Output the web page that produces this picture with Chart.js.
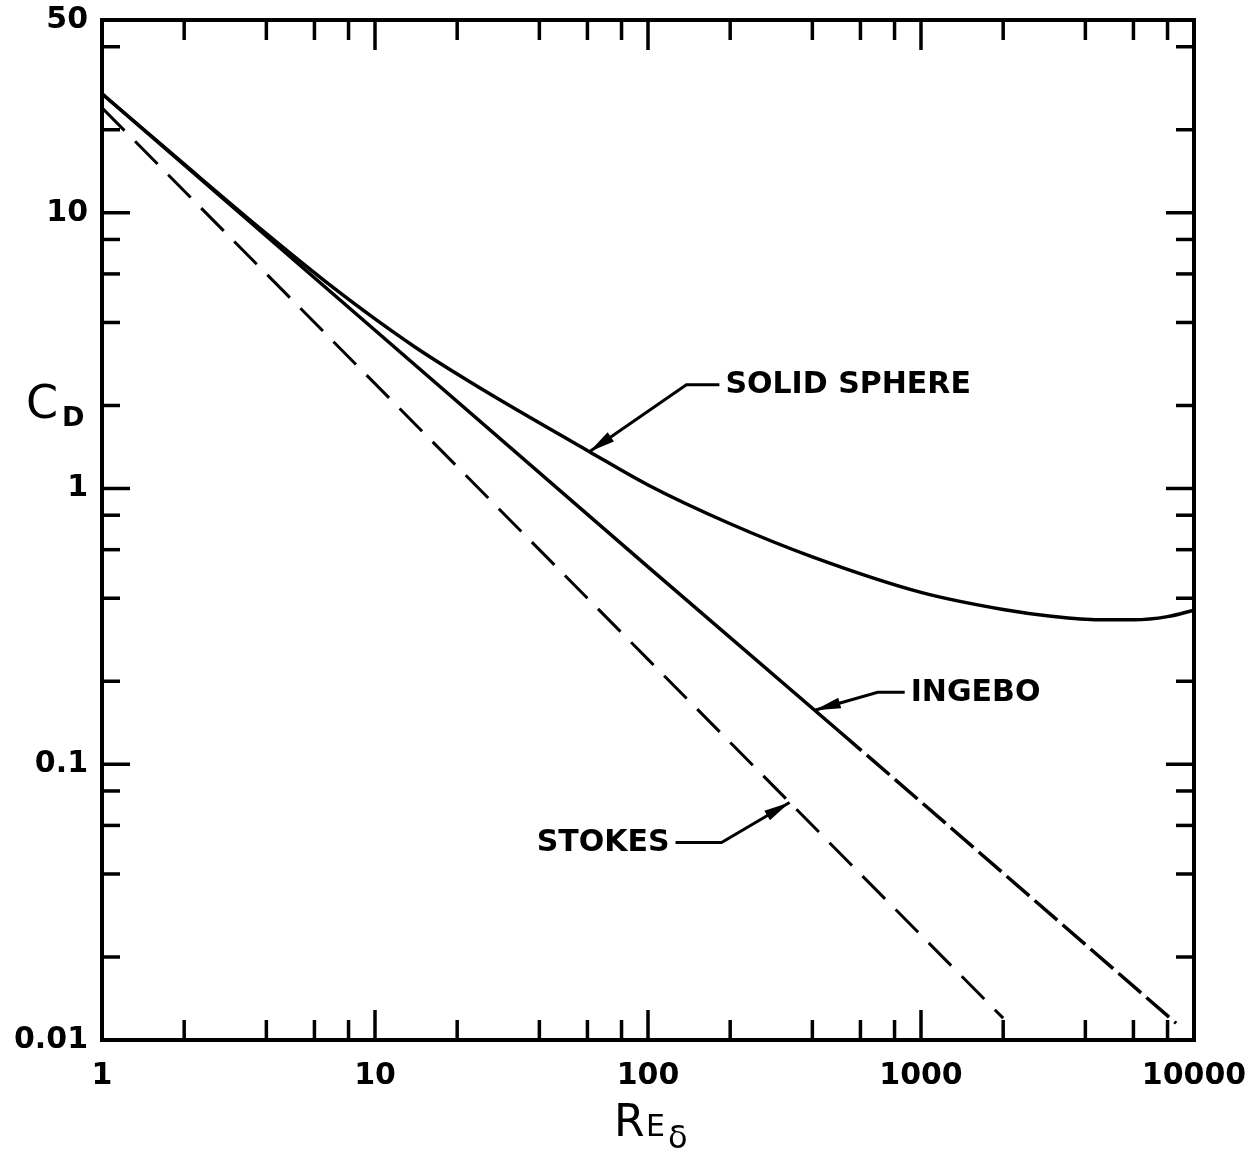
<!DOCTYPE html>
<html>
<head>
<meta charset="utf-8">
<script src="https://cdn.jsdelivr.net/npm/chart.js@4.4.0/dist/chart.umd.min.js"></script>
<style>
  html, body { margin: 0; padding: 0; background: #fff; }
  #wrap { width: 1260px; height: 1153px; }
</style>
</head>
<body>
<div id="wrap"><canvas id="dragChart" width="1260" height="1153"></canvas></div>
<script>
// Drag coefficient vs Reynolds number
const reTicks = [1, 10, 100, 1000, 10000];
const cdTicks = [0.01, 0.1, 1, 10, 50];

const sphereRe = [1, 2, 4, 7, 10, 14, 20, 30, 61, 100, 200, 400, 1000, 2000, 3000, 4500, 6000, 8000, 10000];
const sphereCd = [27, 15, 8.4, 5.37, 4.12, 3.26, 2.6, 2.04, 1.36, 1.03, 0.745, 0.565, 0.42, 0.364, 0.344, 0.334, 0.334, 0.343, 0.362];

// Ingebo correlation: solid over the measured range, dashed where extrapolated
const ingeboRe = [1, 10, 100, 500];
const ingeboCd = [27, 3.75, 0.52, 0.132];
const ingeboExtRe = [500, 1000, 8600];
const ingeboExtCd = [0.132, 0.073, 0.0115];

const stokesRe = [1, 10, 100, 2000];
const stokesCd = [24, 2.4, 0.24, 0.012];

// curve labels: arrow tip sits on the curve at (re, cd)
const callouts = [
  { text: 'SOLID SPHERE', re: 61, cd: 1.36, dx: 97, dy: -67, run: 33 },
  { text: 'INGEBO', re: 408, cd: 0.157, dx: 63, dy: -18, run: 27 },
  { text: 'STOKES', re: 330, cd: 0.0727, dx: -68, dy: 40, run: -46 }
];

const ink = '#000';
const font = "'DejaVu Sans', sans-serif";

function pts(xs, ys) {
  return xs.map((v, i) => ({ x: v, y: ys[i] }));
}

function line(ctx, x1, y1, x2, y2) {
  ctx.beginPath();
  ctx.moveTo(x1, y1);
  ctx.lineTo(x2, y2);
  ctx.stroke();
}

const decorations = {
  id: 'decorations',
  afterDraw(chart) {
    const { ctx, chartArea: a, scales: { x, y } } = chart;
    ctx.save();
    ctx.strokeStyle = ink;
    ctx.fillStyle = ink;

    // inward ticks on all four sides
    ctx.lineWidth = 3.5;
    [1, 10, 100, 1000].forEach(d => {
      [2, 4, 6, 8].forEach(m => {
        const px = x.getPixelForValue(d * m);
        line(ctx, px, a.bottom, px, a.bottom - 20);
        line(ctx, px, a.top, px, a.top + 20);
      });
    });
    [10, 100, 1000].forEach(v => {
      const px = x.getPixelForValue(v);
      line(ctx, px, a.bottom, px, a.bottom - 30);
      line(ctx, px, a.top, px, a.top + 30);
    });
    [0.01, 0.1, 1, 10].forEach(d => {
      [2, 4, 6, 8].forEach(m => {
        const v = d * m;
        if (v >= 50) return;
        const py = y.getPixelForValue(v);
        line(ctx, a.left, py, a.left + 18, py);
        line(ctx, a.right, py, a.right - 18, py);
      });
    });
    [0.1, 1, 10].forEach(v => {
      const py = y.getPixelForValue(v);
      line(ctx, a.left, py, a.left + 28, py);
      line(ctx, a.right, py, a.right - 28, py);
    });

    // frame
    ctx.lineWidth = 4;
    ctx.strokeRect(a.left, a.top, a.width, a.height);

    // callouts with arrows
    ctx.lineWidth = 3;
    ctx.font = 'bold 30px ' + font;
    ctx.textBaseline = 'middle';
    callouts.forEach(c => {
      const tx = x.getPixelForValue(c.re);
      const ty = y.getPixelForValue(c.cd);
      const ex = tx + c.dx, ey = ty + c.dy;
      const hx = ex + c.run;
      ctx.beginPath();
      ctx.moveTo(hx, ey);
      ctx.lineTo(ex, ey);
      ctx.lineTo(tx, ty);
      ctx.stroke();
      // arrow head
      const ang = Math.atan2(ty - ey, tx - ex);
      const len = 26, half = 5.5;
      ctx.beginPath();
      ctx.moveTo(tx, ty);
      ctx.lineTo(tx - len * Math.cos(ang) + half * Math.sin(ang), ty - len * Math.sin(ang) - half * Math.cos(ang));
      ctx.lineTo(tx - len * Math.cos(ang) - half * Math.sin(ang), ty - len * Math.sin(ang) + half * Math.cos(ang));
      ctx.closePath();
      ctx.fill();
      ctx.textAlign = c.run > 0 ? 'left' : 'right';
      ctx.fillText(c.text, hx + (c.run > 0 ? 6 : -6), ey + 1);
    });

    // axis titles
    ctx.textAlign = 'left';
    ctx.textBaseline = 'alphabetic';
    ctx.font = '46px ' + font;
    ctx.fillText('C', 26, 418);
    ctx.font = 'bold 27px ' + font;
    ctx.fillText('D', 62, 426);

    ctx.font = '44px ' + font;
    ctx.fillText('R', 614, 1136);
    ctx.font = '30px ' + font;
    ctx.fillText('E', 646, 1136);
    ctx.font = '32px ' + font;
    ctx.fillText('\u03b4', 668, 1148);
    ctx.restore();
  }
};

new Chart(document.getElementById('dragChart'), {
  type: 'line',
  data: {
    datasets: [{
      label: 'Solid sphere',
      data: pts(sphereRe, sphereCd),
      borderColor: ink,
      borderWidth: 3.5,
      cubicInterpolationMode: 'monotone',
      pointRadius: 0
    }, {
      label: 'Ingebo',
      data: pts(ingeboRe, ingeboCd),
      borderColor: ink,
      borderWidth: 3.5,
      pointRadius: 0
    }, {
      label: 'Ingebo (extended)',
      data: pts(ingeboExtRe, ingeboExtCd),
      borderColor: ink,
      borderWidth: 3.5,
      borderDash: [30, 7],
      pointRadius: 0
    }, {
      label: 'Stokes',
      data: pts(stokesRe, stokesCd),
      borderColor: ink,
      borderWidth: 3,
      borderDash: [32, 15],
      pointRadius: 0
    }]
  },
  options: {
    responsive: false,
    animation: false,
    devicePixelRatio: 1,
    layout: { padding: { top: 20, right: 66, left: 0, bottom: 0 } },
    plugins: {
      legend: { display: false },
      tooltip: { enabled: false }
    },
    scales: {
      x: {
        type: 'logarithmic',
        min: 1,
        max: 10000,
        grid: { display: false },
        border: { display: false },
        afterBuildTicks: s => { s.ticks = reTicks.map(v => ({ value: v })); },
        afterFit: s => { s.height = 113; },
        ticks: {
          color: ink,
          padding: 10,
          maxRotation: 0,
          font: { family: font, size: 30, weight: 'bold' },
          callback: v => String(v)
        }
      },
      y: {
        type: 'logarithmic',
        min: 0.01,
        max: 50,
        grid: { display: false },
        border: { display: false },
        afterBuildTicks: s => { s.ticks = cdTicks.map(v => ({ value: v })); },
        afterFit: s => { s.width = 102; s.paddingTop = 0; s.paddingBottom = 0; },
        ticks: {
          color: ink,
          padding: 6,
          font: { family: font, size: 30, weight: 'bold' },
          callback: v => String(v)
        }
      }
    }
  },
  plugins: [decorations]
});
</script>
</body>
</html>
